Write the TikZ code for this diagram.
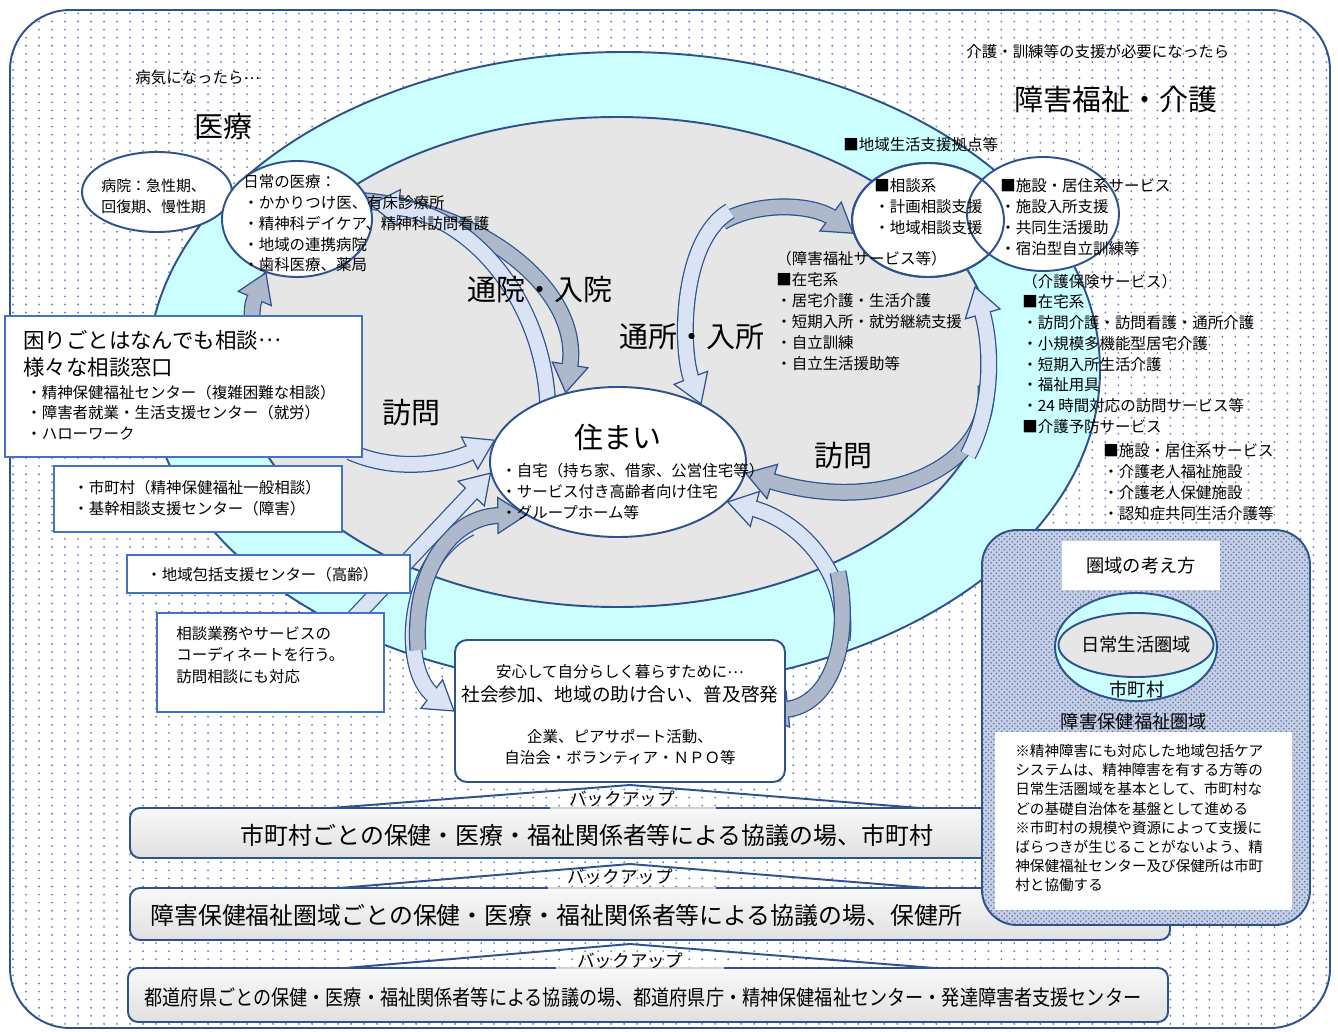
\documentclass[tikz,border=0pt]{standalone}
\usepackage{fontspec}
\setmainfont{Noto Sans CJK JP}
\usetikzlibrary{shapes.geometric, patterns, calc}

\definecolor{edgeblue}{RGB}{47,82,143}
\definecolor{boxblue}{RGB}{68,114,196}
\definecolor{ringcyan}{RGB}{204,255,255}
\definecolor{coregray}{RGB}{230,230,230}
\definecolor{flowdark}{RGB}{173,185,202}
\definecolor{flowlight}{RGB}{218,227,243}
\definecolor{dotblue}{RGB}{110,130,190}
\definecolor{kenfill}{RGB}{196,206,228}
\definecolor{kendots}{RGB}{95,115,170}

\pgfdeclarepatternformonly{bgdots}{\pgfqpoint{-1pt}{-1pt}}{\pgfqpoint{1pt}{1pt}}{\pgfqpoint{7.4pt}{4.6pt}}{%
  \pgfpathcircle{\pgfqpoint{0pt}{0pt}}{0.6pt}\pgfusepath{fill}}

\pgfdeclarelayer{backdrop}
\pgfdeclarelayer{flows}
\pgfsetlayers{backdrop,flows,main}

\newcommand{\midellip}{\raisebox{0.3em}{…}}

% curved block arrow: #1 fill, #2 tail, #3 and #4 controls, #5 tip
\newcommand{\careflow}[5]{%
  \draw[edgeblue, line width=3.4mm, shorten >=5.1mm] (#2) .. controls (#3) and (#4) .. (#5);
  \draw[#1, line width=2.9mm, shorten >=5.1mm] (#2) .. controls (#3) and (#4) .. (#5);
  \path ($(#5)!5.6mm!(#4)$) coordinate (headbase)
        ($(#5)!5.25mm!(#4)$) coordinate (headfront)
        ($(#5)!5.95mm!(#4)$) coordinate (headback);
  \filldraw[fill=#1, draw=edgeblue, line width=0.7pt] ($(headbase)!3.6mm!90:(#5)$) -- (#5) -- ($(headbase)!3.6mm!-90:(#5)$) -- cycle;
  \fill[#1] ($(headfront)!1.42mm!90:(#5)$) -- ($(headfront)!1.42mm!-90:(#5)$) -- ($(headback)!1.42mm!-90:(#5)$) -- ($(headback)!1.42mm!90:(#5)$) -- cycle;
}

\begin{document}
\begin{tikzpicture}[x=0.2mm, y=-0.2mm,
  ring/.style={ellipse, draw=edgeblue, line width=1.1pt, inner sep=0pt},
  panel/.style={rectangle, draw=boxblue, line width=0.9pt, fill=white, inner sep=0pt},
  lbl/.style={font=\fontsize{8.8}{11.8}\selectfont, inner sep=0pt, align=left},
  notelbl/.style={font=\fontsize{8.3}{10.9}\selectfont, inner sep=0pt, align=left},
  midlbl/.style={font=\fontsize{10.4}{12}\selectfont, inner sep=0pt},
  bigtitle/.style={font=\fontsize{16.5}{19}\selectfont, inner sep=0pt},
  barbox/.style={rectangle, rounded corners=2mm, draw=edgeblue, line width=1.1pt, top color=gray!5, bottom color=gray!24, inner sep=0pt},
  bartxt/.style={font=\fontsize{13.6}{15}\selectfont, inner sep=0pt},
  backup/.style={font=\fontsize{10}{12}\selectfont, inner sep=0pt}]

\useasboundingbox (0,0) rectangle (1338,1032);

% frame and the two rings
\begin{pgfonlayer}{backdrop}
  \draw[edgeblue, line width=1.1pt, rounded corners=12mm, preaction={fill=white}, pattern=bgdots, pattern color=dotblue] (10,10) rectangle (1330,1028);
  \node[ring, fill=ringcyan, minimum width=190.4mm, minimum height=127.2mm] (carering) at (624,370) {};
  \node[ring, fill=coregray, minimum width=151.2mm, minimum height=98mm] (homearea) at (617,362) {};
\end{pgfonlayer}

% Iryo side
\node[ring, fill=white, minimum width=30mm, minimum height=16mm] (byoin) at (157,192) {};
\node[ring, fill=white, minimum width=30mm, minimum height=23.2mm] (nichijo) at (297,219) {};
\node[lbl, anchor=west] (illness) at (135,78) {病気になったら\midellip};
\node[bigtitle] (iryotitle) at (223,126) {医療};
\node[lbl, font=\fontsize{8.5}{12}\selectfont, anchor=north west] (byointxt) at (101,178.5) {病院：急性期、\\回復期、慢性期};
\node[lbl, anchor=north west] (nichijotxt) at (243,174.5) {日常の医療：\\・かかりつけ医、有床診療所\\・精神科デイケア、精神科訪問看護\\・地域の連携病院\\・歯科医療、薬局};

% Fukushi / kaigo side
\node[ring, fill=white, minimum width=30.4mm, minimum height=22.8mm] (soudan) at (928,220) {};
\node[ring, fill=white, minimum width=30.4mm, minimum height=22.8mm] (shisetsu) at (1043,214) {};
\draw[edgeblue, line width=1.1pt] (soudan.center) ellipse [x radius=15.2mm, y radius=11.4mm];
\node[lbl, anchor=west] (needtxt) at (966,52) {介護・訓練等の支援が必要になったら};
\node[bigtitle] (fukushititle) at (1116,99) {障害福祉・介護};
\node[lbl, anchor=west] (kyotentxt) at (843,145) {■地域生活支援拠点等};
\node[lbl, anchor=north west] (soudantxt) at (874,178.5) {■相談系\\・計画相談支援\\・地域相談支援};
\node[lbl, anchor=north west] (shisetsutxt) at (1000,178.5) {■施設・居住系サービス\\・施設入所支援\\・共同生活援助\\・宿泊型自立訓練等};
\node[lbl, font=\fontsize{8.8}{12.05}\selectfont, anchor=north west] (shogaitxt) at (776,250.5) {（障害福祉サービス等）\\■在宅系\\・居宅介護・生活介護\\・短期入所・就労継続支援\\・自立訓練\\・自立生活援助等};
\node[lbl, anchor=north west] (hokentxt) at (1022,273.5) {（介護保険サービス）\\■在宅系\\・訪問介護・訪問看護・通所介護\\・小規模多機能型居宅介護\\・短期入所生活介護\\・福祉用具\\・24 時間対応の訪問サービス等\\■介護予防サービス};
\node[lbl, anchor=north west] (kaigoshisetsu) at (1103,443.5) {■施設・居住系サービス\\・介護老人福祉施設\\・介護老人保健施設\\・認知症共同生活介護等};

% Sumai
\node[ring, fill=white, minimum width=51.2mm, minimum height=30mm] (sumai) at (618,462) {};
\node[bigtitle] (sumaititle) at (618,437) {住まい};
\node[lbl, font=\fontsize{8.8}{12}\selectfont, anchor=north west] (sumaitxt) at (501,462.5) {・自宅（持ち家、借家、公営住宅等）\\・サービス付き高齢者向け住宅\\・グループホーム等};
\node[bigtitle] (tsuin) at (540,290) {通院・入院};
\node[bigtitle] (tsusho) at (692,337) {通所・入所};
\node[bigtitle] (homonL) at (411,413) {訪問};
\node[bigtitle] (homonR) at (843,456) {訪問};

% consultation windows
\node[panel, minimum width=71.4mm, minimum height=28.2mm] (madoguchi) at (183.5,386.5) {};
\node[inner sep=0pt, font=\fontsize{12.2}{14}\selectfont, anchor=west] (madotitle1) at (23,340) {困りごとはなんでも相談\midellip};
\node[inner sep=0pt, font=\fontsize{12.2}{14}\selectfont, anchor=west] (madotitle2) at (23,367) {様々な相談窓口};
\node[lbl, font=\fontsize{8.8}{11.7}\selectfont, anchor=north west] (madotxt) at (26,384.5) {・精神保健福祉センター（複雑困難な相談）\\・障害者就業・生活支援センター（就労）\\・ハローワーク};
\node[panel, minimum width=57.6mm, minimum height=13.2mm] (shichoson) at (198,499) {};
\node[lbl, font=\fontsize{8.8}{12}\selectfont, anchor=north west] (shichosontxt) at (73,479.5) {・市町村（精神保健福祉一般相談）\\・基幹相談支援センター（障害）};
\node[panel, minimum width=56.6mm, minimum height=7.6mm] (houkatsu) at (268.5,574) {};
\node[lbl, anchor=west] (houkatsutxt) at (146,575) {・地域包括支援センター（高齢）};
\node[panel, minimum width=45.4mm, minimum height=19.8mm] (coord) at (270.5,662.5) {};
\node[lbl, font=\fontsize{8.8}{12}\selectfont, anchor=north west] (coordtxt) at (176,626.5) {相談業務やサービスの\\コーディネートを行う。\\訪問相談にも対応};

% community
\node[rectangle, rounded corners=2.4mm, draw=edgeblue, line width=1.1pt, fill=white, minimum width=66mm, minimum height=28.4mm, inner sep=0pt] (shakai) at (620,711) {};
\node[lbl] (shakai1) at (620,672) {安心して自分らしく暮らすために\midellip};
\node[inner sep=0pt, font=\fontsize{10.6}{12}\selectfont] (shakai2) at (620,694) {社会参加、地域の助け合い、普及啓発};
\node[lbl] (shakai3) at (620,737) {企業、ピアサポート活動、};
\node[lbl] (shakai4) at (620,758) {自治会・ボランティア・ＮＰＯ等};

% backup levels
\draw[edgeblue, line width=1.1pt] (331,808) -- (630,785) -- (920,808);
\draw[edgeblue, line width=1.1pt] (339,888) -- (630,864) -- (928,888);
\draw[edgeblue, line width=1.1pt] (345,968) -- (630,944) -- (935,968);
\node[barbox, minimum width=182.8mm, minimum height=10mm] (bar1) at (587,833) {};
\node[barbox, minimum width=208mm, minimum height=10.4mm] (bar2) at (650,914) {};
\node[barbox, minimum width=208mm, minimum height=10.8mm] (bar3) at (648,995) {};
\draw[gray!35, line width=1.1pt] (550,808) -- (716,808);
\draw[gray!35, line width=1.1pt] (548,888) -- (716,888);
\draw[gray!35, line width=1.1pt] (556,968) -- (724,968);
\node[bartxt] (bar1txt) at (587,835) {市町村ごとの保健・医療・福祉関係者等による協議の場、市町村};
\node[bartxt, anchor=west] (bar2txt) at (150,915) {障害保健福祉圏域ごとの保健・医療・福祉関係者等による協議の場、保健所};
\node[inner sep=0pt, font=\fontsize{12}{14}\selectfont] (bar3txt) at (643,998) {\scalebox{0.86}[1]{都道府県ごとの保健・医療・福祉関係者等による協議の場、都道府県庁・精神保健福祉センター・発達障害者支援センター}};
\node[backup] (backup1) at (622,799) {バックアップ};
\node[backup] (backup2) at (620,877) {バックアップ};
\node[backup] (backup3) at (630,961) {バックアップ};

% area concept
\node[rectangle, rounded corners=7mm, draw=edgeblue, line width=1.1pt, preaction={fill=kenfill}, pattern=crosshatch dots, pattern color=kendots, minimum width=65.6mm, minimum height=79mm, inner sep=0pt] (ken) at (1146,727.5) {};
\node[rectangle, fill=white, minimum width=31.6mm, minimum height=9.8mm, midlbl] (kentitle) at (1141,565.5) {圏域の考え方};
\node[ellipse, draw=edgeblue, line width=1.1pt, fill=ringcyan, minimum width=32.4mm, minimum height=21.6mm, inner sep=0pt] (kenring) at (1136,647) {};
\node[ellipse, draw=edgeblue, line width=1.1pt, fill=coregray, minimum width=27.6mm, minimum height=12.8mm, midlbl] (kencore) at (1136,645) {日常生活圏域};
\node[midlbl] (kencity) at (1137,690) {市町村};
\node[midlbl] (kenarea) at (1134,722) {障害保健福祉圏域};
\node[rectangle, fill=white, minimum width=59.4mm, minimum height=35.6mm, inner sep=0pt] (kennote) at (1143.5,821) {};
\node[notelbl, anchor=north west] (kennotetxt) at (1015,744) {※精神障害にも対応した地域包括ケア\\システムは、精神障害を有する方等の\\日常生活圏域を基本として、市町村な\\どの基礎自治体を基盤として進める\\※市町村の規模や資源によって支援に\\ばらつきが生じることがないよう、精\\神保健福祉センター及び保健所は市町\\村と協働する};

% free ends of the flows
\coordinate (tsuinTail) at (352,200);
\coordinate (nyuinTail) at (548,410);
\coordinate (tsushoTail) at (722,222);
\coordinate (nyushoTail) at (730,211);
\coordinate (homonTail) at (986,385);
\coordinate (riyoTail) at (968,455);
\coordinate (riyoTip) at (975,287);
\coordinate (sankaTail) at (470,528);
\coordinate (kaeriTail) at (418,650);
\coordinate (shienTail) at (842,640);
\coordinate (dekakeTail) at (838,572);
\coordinate (dekakeTip) at (760,712);
\coordinate (madoTail) at (350,452);
\coordinate (coordTail) at (352,620);
\coordinate (kakaruTail) at (252,335);

\begin{pgfonlayer}{flows}
  % tsuin / nyuin
  \careflow{flowdark}{tsuinTail}{470,205}{583,285}{sumai.127}
  \careflow{flowlight}{nyuinTail}{545,300}{470,215}{nichijo.11}
  % tsusho / nyusho
  \careflow{flowdark}{tsushoTail}{760,200}{815,205}{soudan.190}
  \careflow{flowlight}{nyushoTail}{680,240}{680,350}{sumai.35}
  % homon (right)
  \careflow{flowdark}{homonTail}{992,470}{880,515}{sumai.-5}
  \careflow{flowlight}{riyoTail}{992,410}{993,350}{riyoTip}
  % community loop
  \careflow{flowlight}{sankaTail}{405,560}{400,670}{shakai.west}
  \careflow{flowdark}{kaeriTail}{412,570}{452,516}{sumai.210}
  \careflow{flowlight}{shienTail}{850,580}{805,522}{sumai.-20}
  \careflow{flowdark}{dekakeTail}{852,640}{832,705}{dekakeTip}
  % consultation to sumai
  \careflow{flowlight}{madoTail}{400,474}{452,462}{sumai.170}
  \careflow{flowlight}{coordTail}{coordTail}{coordTail}{sumai.185}
  \careflow{flowdark}{kakaruTail}{252,305}{252,305}{nichijo.240}
\end{pgfonlayer}

\end{tikzpicture}
\end{document}
